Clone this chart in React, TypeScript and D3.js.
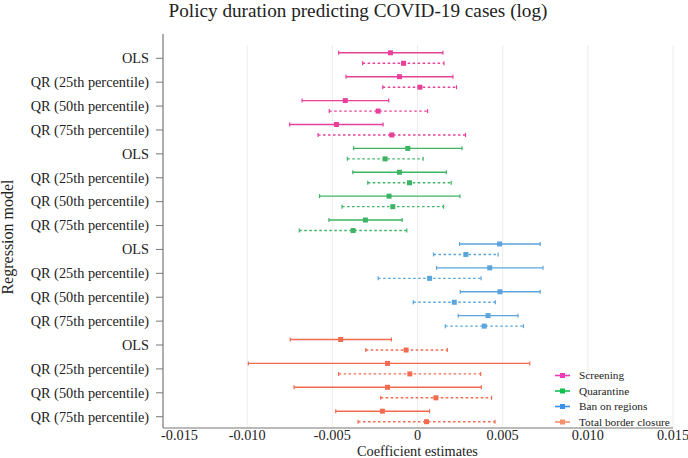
import * as d3 from 'd3';

// policy groups, top to bottom
const policies = ['Screening', 'Quarantine', 'Ban on regions', 'Total border closure'];
const models = ['OLS', 'QR (25th percentile)', 'QR (50th percentile)', 'QR (75th percentile)'];

// solid specification (one row per policy x model)
const solidEst = [-0.00159, -0.00106, -0.00424, -0.00476, -0.00057, -0.00106, -0.00167, -0.00306, 0.00482, 0.00424, 0.00484, 0.00414, -0.00451, -0.00176, -0.00176, -0.00206];
const solidLow = [-0.00463, -0.0042, -0.00678, -0.00751, -0.00375, -0.0038, -0.00575, -0.0052, 0.00247, 0.00112, 0.00251, 0.00239, -0.00747, -0.00993, -0.00725, -0.0048];
const solidHigh = [0.00149, 0.00208, -0.00169, -0.00202, 0.00261, 0.00169, 0.00249, -0.0009, 0.0072, 0.00737, 0.0072, 0.0059, -0.00153, 0.00659, 0.00375, 0.00071];

// dashed specification
const dashEst = [-0.00082, 0.00014, -0.00231, -0.00151, -0.0019, -0.00047, -0.00145, -0.00378, 0.00284, 0.00071, 0.00216, 0.00392, -0.00067, -0.00045, 0.00108, 0.00053];
const dashLow = [-0.00322, -0.00204, -0.00518, -0.00584, -0.00412, -0.00292, -0.00443, -0.00694, 0.00094, -0.00231, -0.00025, 0.00163, -0.00304, -0.00463, -0.00216, -0.00349];
const dashHigh = [0.00155, 0.00229, 0.00059, 0.00282, 0.00033, 0.00198, 0.00153, -0.00063, 0.00473, 0.00373, 0.00457, 0.00622, 0.00175, 0.00371, 0.00435, 0.00455];

const xTicks = [-0.015, -0.01, -0.005, 0, 0.005, 0.01, 0.015];

const lineColors = ['#e8409a', '#3cb464', '#5aa5dc', '#f26b50'];
const legendColors = ['#f03cb4', '#10c050', '#3c8ee8', '#f8906c'];

const font = '"Liberation Serif", "DejaVu Serif", serif';

export default function App() {
  const width = 688;
  const height = 458;
  const left = 163;
  const right = 673;

  const x = d3.scaleLinear().domain([-0.015, 0.015]).range([left - 1, right]);
  const rows = d3.range(policies.length * models.length);
  const y = d3.scalePoint<number>().domain(rows).range([58.3, 416.7]);

  // plain hyphen for negatives, as in the original
  const fmt = (v: number) => (v === 0 ? '0' : v.toFixed(3));

  const bar = (i: number, est: number, lo: number, hi: number, dy: number, dashed: boolean) => {
    const c = lineColors[Math.floor(i / models.length)];
    const yy = (y(i) as number) + dy;
    return (
      <g key={`${i}-${dashed}`}>
        <line x1={x(lo)} x2={x(hi)} y1={yy} y2={yy} stroke={c} strokeWidth={1.4}
          strokeDasharray={dashed ? '2.5,2.5' : undefined} />
        <line x1={x(lo)} x2={x(lo)} y1={yy - 2} y2={yy + 2} stroke={c} strokeWidth={1.2} />
        <line x1={x(hi)} x2={x(hi)} y1={yy - 2} y2={yy + 2} stroke={c} strokeWidth={1.2} />
        <rect x={x(est) - 2.5} y={yy - 2.5} width={5} height={5} fill={c} />
      </g>
    );
  };

  return (
    <svg width={width} height={height} style={{ position: 'absolute', left: 0, top: 0, background: '#fff' }}
      fontFamily={font}>
      <text x={358} y={16.5} textAnchor="middle" fontSize={19.2} fill="#222">
        Policy duration predicting COVID-19 cases (log)
      </text>

      {/* grid */}
      {xTicks.slice(1).map(t => (
        <line key={t} x1={x(t)} x2={x(t)} y1={45} y2={428} stroke="#ececec" strokeWidth={1} />
      ))}

      {/* axes */}
      <line x1={left} x2={left} y1={34} y2={428} stroke="#777" strokeWidth={1.2} />
      <line x1={left} x2={right} y1={428} y2={428} stroke="#777" strokeWidth={1.2} />

      {rows.map(i => (
        <g key={i}>
          <line x1={left - 7} x2={left} y1={y(i)} y2={y(i)} stroke="#777" strokeWidth={1} />
          <text x={149} y={(y(i) as number) + 4.8} textAnchor="end" fontSize={14.3} fill="#222">
            {models[i % models.length]}
          </text>
        </g>
      ))}

      {xTicks.map((t, k) => (
        <text key={t} x={k === 0 ? x(t) - 1 : x(t)} y={440} textAnchor={k === 0 ? 'start' : 'middle'}
          fontSize={14.3} fill="#222">{fmt(t)}</text>
      ))}
      <text x={x(0)} y={455.5} textAnchor="middle" fontSize={14.3} fill="#222">Coefficient estimates</text>
      <text transform={`translate(13,${237}) rotate(-90)`} textAnchor="middle" fontSize={16} fill="#222">
        Regression model
      </text>

      {/* estimates */}
      {rows.map(i => bar(i, solidEst[i], solidLow[i], solidHigh[i], -5.5, false))}
      {rows.map(i => bar(i, dashEst[i], dashLow[i], dashHigh[i], 5, true))}

      {/* legend */}
      {policies.map((p, k) => {
        const ly = 375.5 + k * 15.5;
        return (
          <g key={p}>
            <line x1={555} x2={570} y1={ly} y2={ly} stroke={legendColors[k]} strokeWidth={1.6} />
            <rect x={560} y={ly - 2.5} width={5} height={5} fill={legendColors[k]} />
            <text x={579} y={ly + 3.8} fontSize={11.3} fill="#222">{p}</text>
          </g>
        );
      })}
    </svg>
  );
}
